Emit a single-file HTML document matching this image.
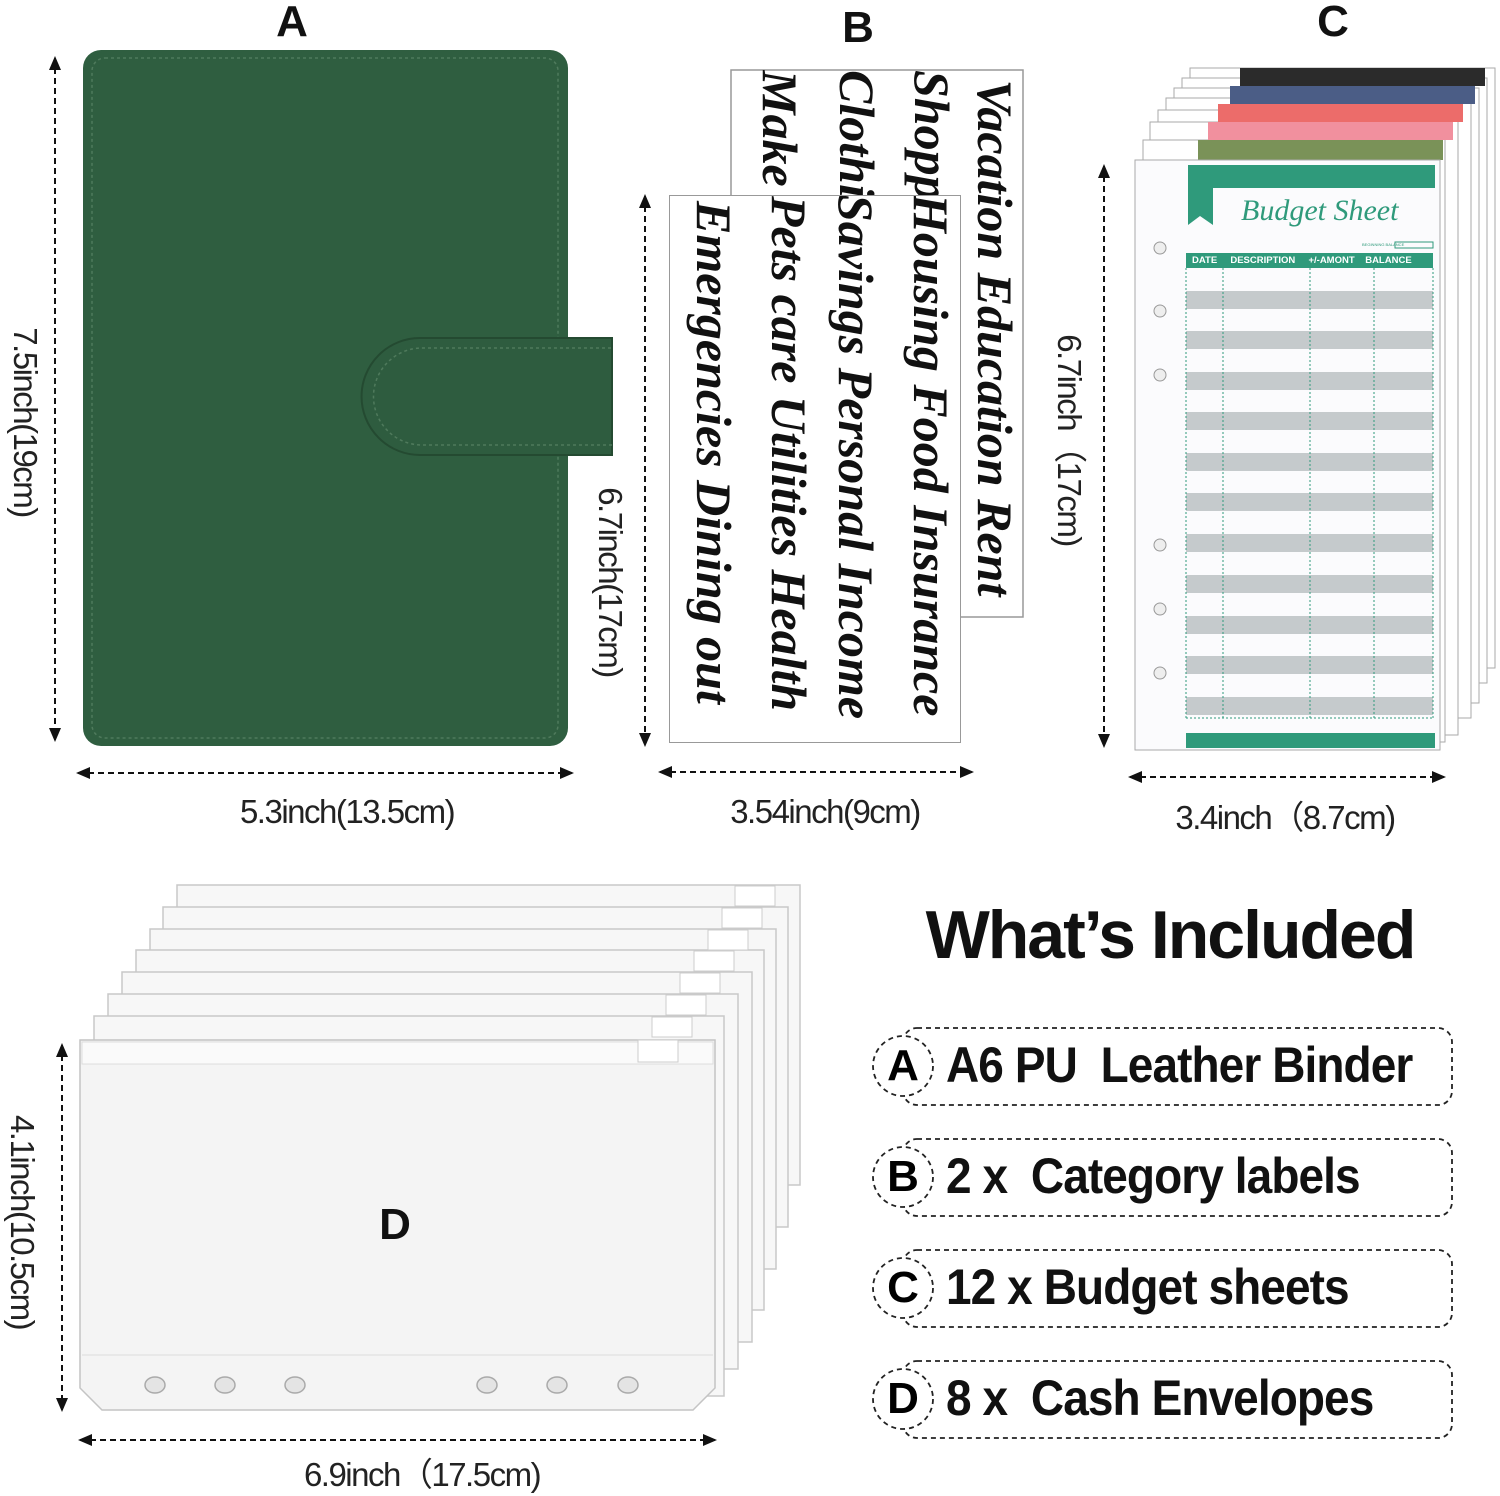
<!DOCTYPE html>
<html><head><meta charset="utf-8"><style>
body{margin:0;width:1500px;height:1492px;background:#fff;position:relative;overflow:hidden;font-family:"Liberation Sans",sans-serif}
.t{position:absolute;white-space:nowrap}
.big{font-weight:bold;font-size:44px;color:#111}
.dim{font-size:33px;color:#222;letter-spacing:-1.5px}
.rot{transform:translate(-50%,-50%) rotate(90deg);transform-origin:center}
.ctr{transform:translate(-50%,-50%)}
.sc{font-family:"Liberation Serif",serif;font-style:italic;font-weight:bold;font-size:50px;color:#111}
.item{font-size:50px;color:#111;font-weight:bold;letter-spacing:-1px;transform:scaleX(0.92);transform-origin:0 0}
</style></head><body>
<svg width="1500" height="1492" style="position:absolute;left:0;top:0">
<defs>
<marker id="ah" markerWidth="14" markerHeight="12" refX="12" refY="6" orient="auto-start-reverse" markerUnits="userSpaceOnUse"><path d="M0,0 L14,6 L0,12 Z" fill="#111"/></marker>
</defs>
<rect x="83" y="50" width="485" height="696" rx="18" fill="#2f5e40"/>
<rect x="92" y="58" width="466" height="680" rx="13" fill="none" stroke="#4f7a5c" stroke-dasharray="3,3" stroke-width="1.5"/>
<path d="M420,338 L612,338 L612,455 L420,455 A58,58 0 0 1 420,338 Z" fill="#2e5c3f" stroke="#244a31" stroke-width="2"/>
<path d="M422,348 L612,348 M612,445 L422,445 A48,48 0 0 1 422,348" fill="none" stroke="#4f7a5c" stroke-dasharray="3,3" stroke-width="1.5"/>
<g stroke="#111" stroke-width="2" stroke-dasharray="6,4" fill="none">
<line x1="55" y1="58" x2="55" y2="740" marker-start="url(#ah)" marker-end="url(#ah)"/>
<line x1="78" y1="773" x2="572" y2="773" marker-start="url(#ah)" marker-end="url(#ah)"/>
<line x1="645" y1="196" x2="645" y2="745" marker-start="url(#ah)" marker-end="url(#ah)"/>
<line x1="660" y1="772" x2="972" y2="772" marker-start="url(#ah)" marker-end="url(#ah)"/>
<line x1="1104" y1="166" x2="1104" y2="746" marker-start="url(#ah)" marker-end="url(#ah)"/>
<line x1="1130" y1="777" x2="1444" y2="777" marker-start="url(#ah)" marker-end="url(#ah)"/>
<line x1="62" y1="1045" x2="62" y2="1410" marker-start="url(#ah)" marker-end="url(#ah)"/>
<line x1="80" y1="1440" x2="715" y2="1440" marker-start="url(#ah)" marker-end="url(#ah)"/>
</g>
<rect x="731" y="70" width="292" height="547" fill="#fff" stroke="#999" stroke-width="1.5"/>
<g fill="#fff" stroke="#aaa" stroke-width="1">
<rect x="1190" y="68" width="305" height="600"/>
<rect x="1182" y="78" width="305" height="605"/>
<rect x="1174" y="88" width="305" height="615"/>
<rect x="1166" y="98" width="305" height="620"/>
<rect x="1158" y="110" width="300" height="625"/>
<rect x="1150" y="122" width="295" height="620"/>
<rect x="1143" y="140" width="295" height="607"/>
</g>
<rect x="1240" y="68" width="245" height="18" fill="#2b2b2b"/>
<rect x="1230" y="86" width="245" height="18" fill="#4b5d86"/>
<rect x="1218" y="104" width="245" height="18" fill="#ec6c6a"/>
<rect x="1208" y="122" width="245" height="18" fill="#f1909e"/>
<rect x="1198" y="140" width="245" height="20" fill="#7a9258"/>
<rect x="1135" y="160" width="305" height="590" fill="#fbfbfd" stroke="#aaa"/>
<path d="M1188,165 L1435,165 L1435,188 L1213,188 L1213,225 L1200,216 L1188,225 Z" fill="#2f9a7b"/>
<rect x="1395" y="242" width="38" height="6" fill="none" stroke="#2f9a7b" stroke-width="1"/>
<rect x="1186" y="253" width="247" height="15" fill="#2f9a7b"/>
<g fill="#c5cacc">
<rect x="1186" y="291" width="247" height="18"/><rect x="1186" y="331" width="247" height="18"/><rect x="1186" y="372" width="247" height="18"/><rect x="1186" y="412" width="247" height="18"/><rect x="1186" y="453" width="247" height="18"/><rect x="1186" y="493" width="247" height="18"/><rect x="1186" y="534" width="247" height="18"/><rect x="1186" y="575" width="247" height="18"/><rect x="1186" y="616" width="247" height="18"/><rect x="1186" y="656" width="247" height="18"/><rect x="1186" y="697" width="247" height="18"/>
</g>
<g stroke="#2f9a7b" stroke-dasharray="2,2" stroke-width="1"><line x1="1186" y1="268" x2="1186" y2="718"/><line x1="1223" y1="268" x2="1223" y2="718"/><line x1="1310" y1="268" x2="1310" y2="718"/><line x1="1374" y1="268" x2="1374" y2="718"/><line x1="1433" y1="268" x2="1433" y2="718"/><line x1="1186" y1="718" x2="1433" y2="718"/></g>
<rect x="1186" y="733" width="249" height="15" fill="#2f9a7b"/>
<g fill="#eee" stroke="#999"><circle cx="1160" cy="248" r="6"/><circle cx="1160" cy="311" r="6"/><circle cx="1160" cy="375" r="6"/><circle cx="1160" cy="545" r="6"/><circle cx="1160" cy="609" r="6"/><circle cx="1160" cy="673" r="6"/></g>
<g fill="#f7f7f7" stroke="#c8c8c8" stroke-width="1.5">
<rect x="177" y="885" width="623" height="300"/>
<rect x="163" y="907" width="625" height="320"/>
<rect x="150" y="929" width="626" height="340"/>
<rect x="136" y="950" width="628" height="360"/>
<rect x="122" y="972" width="630" height="370"/>
<rect x="108" y="994" width="630" height="375"/>
<rect x="94" y="1016" width="630" height="380"/>
</g>
<g fill="#fff" stroke="#ccc"><rect x="735" y="886" width="40" height="20"/><rect x="722" y="908" width="40" height="20"/><rect x="708" y="930" width="40" height="20"/><rect x="694" y="951" width="40" height="20"/><rect x="680" y="973" width="40" height="20"/><rect x="666" y="995" width="40" height="20"/><rect x="652" y="1017" width="40" height="20"/></g>
<path d="M80,1040 L715,1040 L715,1388 L693,1410 L102,1410 L80,1388 Z" fill="#f4f4f4" stroke="#c4c4c4" stroke-width="1.5"/>
<rect x="82" y="1042" width="631" height="22" fill="#fafafa" stroke="#ddd"/>
<rect x="638" y="1040" width="40" height="22" fill="#fff" stroke="#ccc"/>
<line x1="82" y1="1355" x2="713" y2="1355" stroke="#ddd"/>
<g fill="#e4e4e4" stroke="#aaa" stroke-width="1.5"><ellipse cx="155" cy="1385" rx="10" ry="8"/><ellipse cx="225" cy="1385" rx="10" ry="8"/><ellipse cx="295" cy="1385" rx="10" ry="8"/><ellipse cx="487" cy="1385" rx="10" ry="8"/><ellipse cx="557" cy="1385" rx="10" ry="8"/><ellipse cx="628" cy="1385" rx="10" ry="8"/></g>
<g fill="none" stroke="#222" stroke-width="1.8" stroke-dasharray="5,4">
<rect x="903" y="1028" width="549" height="77" rx="14"/><circle cx="903" cy="1066" r="30" fill="#fff"/>
<rect x="903" y="1139" width="549" height="77" rx="14"/><circle cx="903" cy="1177" r="30" fill="#fff"/>
<rect x="903" y="1250" width="549" height="77" rx="14"/><circle cx="903" cy="1288" r="30" fill="#fff"/>
<rect x="903" y="1361" width="549" height="77" rx="14"/><circle cx="903" cy="1399" r="30" fill="#fff"/>
</g>
</svg>
<div style="position:absolute;left:731px;top:70px;width:292px;height:547px;overflow:hidden">
<div class="t sc rot" style="left:264px;top:268px">Vacation Education Rent</div>
<div class="t sc" style="transform:rotate(90deg);transform-origin:0 0;left:230px;top:0">Shopping</div>
<div class="t sc" style="transform:rotate(90deg);transform-origin:0 0;left:155px;top:0">Clothing</div>
<div class="t sc" style="transform:rotate(90deg);transform-origin:0 0;left:78px;top:0">Make up</div>
</div>
<div style="position:absolute;left:669px;top:195px;width:292px;height:548px;background:#fff;border:1.5px solid #999;box-sizing:border-box;overflow:hidden">
<div class="t sc" style="transform:rotate(90deg);transform-origin:0 0;left:290px;top:-2px">Housing Food Insurance</div>
<div class="t sc" style="transform:rotate(90deg);transform-origin:0 0;left:215px;top:-2px">Savings Personal Income</div>
<div class="t sc" style="transform:rotate(90deg);transform-origin:0 0;left:148px;top:0">Pets care Utilities Health</div>
<div class="t sc" style="transform:rotate(90deg);transform-origin:0 0;left:73px;top:5px">Emergencies Dining out</div>
</div>
<div class="t big ctr" style="left:292px;top:22px">A</div>
<div class="t big ctr" style="left:858px;top:28px">B</div>
<div class="t big ctr" style="left:1333px;top:22px">C</div>
<div class="t big ctr" style="left:395px;top:1225px">D</div>
<div class="t dim rot" style="left:25px;top:422px">7.5inch(19cm)</div>
<div class="t dim ctr" style="left:347px;top:812px">5.3inch(13.5cm)</div>
<div class="t dim rot" style="left:610px;top:582px">6.7inch(17cm)</div>
<div class="t dim ctr" style="left:825px;top:812px">3.54inch(9cm)</div>
<div class="t dim rot" style="left:1072px;top:440px">6.7inch（17cm)</div>
<div class="t dim ctr" style="left:1285px;top:815px">3.4inch（8.7cm)</div>
<div class="t dim rot" style="left:22px;top:1222px">4.1inch(10.5cm)</div>
<div class="t dim ctr" style="left:422px;top:1472px">6.9inch（17.5cm)</div>
<div class="t" style="left:1241px;top:194px;font-family:'Liberation Serif',serif;font-style:italic;font-size:30px;color:#2f9a7b">Budget Sheet</div>
<div class="t" style="left:1362px;top:242px;font-size:4px;color:#2f9a7b">BEGINNING BALANCE</div>
<div class="t" style="left:1192px;top:255px;font-size:9.5px;font-weight:bold;color:#fff">DATE&nbsp;&nbsp;&nbsp;&nbsp;&nbsp;DESCRIPTION&nbsp;&nbsp;&nbsp;&nbsp;&nbsp;+/-AMONT&nbsp;&nbsp;&nbsp;&nbsp;BALANCE</div>
<div class="t ctr" style="left:1170px;top:935px;font-size:68px;font-weight:bold;color:#111;letter-spacing:-2px">What’s Included</div>
<div class="t ctr" style="left:903px;top:1066px;font-size:44px;font-weight:bold">A</div>
<div class="t ctr" style="left:903px;top:1177px;font-size:44px;font-weight:bold">B</div>
<div class="t ctr" style="left:903px;top:1288px;font-size:44px;font-weight:bold">C</div>
<div class="t ctr" style="left:903px;top:1399px;font-size:44px;font-weight:bold">D</div>
<div class="t item" style="left:946px;top:1036px">A6 PU&nbsp; Leather Binder</div>
<div class="t item" style="left:946px;top:1147px">2 x&nbsp; Category labels</div>
<div class="t item" style="left:946px;top:1258px">12 x Budget sheets</div>
<div class="t item" style="left:946px;top:1369px">8 x&nbsp; Cash Envelopes</div>
</body></html>
